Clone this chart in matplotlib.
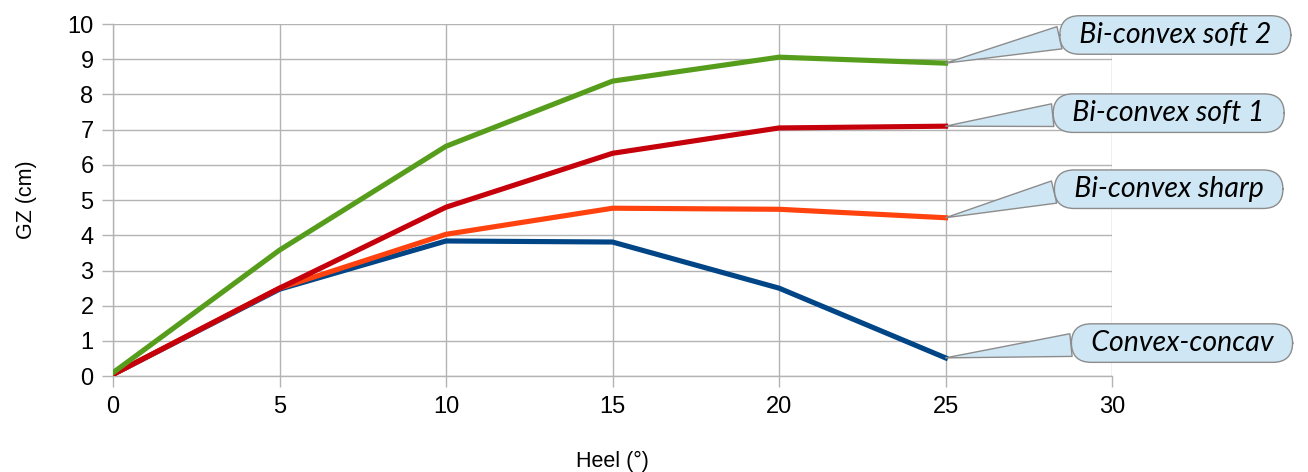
import matplotlib.pyplot as plt

# heel angle (degrees)
heel = [0, 5, 10, 15, 20, 25]

# GZ values (cm)
bi_convex_soft_2 = [0.1, 3.58, 6.53, 8.38, 9.06, 8.89]
bi_convex_soft_1 = [0.05, 2.5, 4.8, 6.33, 7.05, 7.1]
bi_convex_sharp = [0.05, 2.5, 4.03, 4.77, 4.74, 4.5]
convex_concav = [0.05, 2.47, 3.84, 3.81, 2.5, 0.52]

series = [
    ("Bi-convex soft 2", bi_convex_soft_2, "#579d1c", (31.9, 9.69)),
    ("Bi-convex soft 1", bi_convex_soft_1, "#c5000b", (31.7, 7.47)),
    ("Bi-convex sharp", bi_convex_sharp, "#ff420e", (31.7, 5.31)),
    ("Convex-concav", convex_concav, "#004586", (32.1, 0.94)),
]

plt.rcParams['font.family'] = ['Liberation Sans', 'DejaVu Sans']

fig = plt.figure(figsize=(13.08, 4.72), dpi=100)
ax = fig.add_axes([0.0864, 0.203, 0.7638, 0.746])

# convex-concav first so the others sit on top
for nombre, valores, color, pos in series[::-1]:
    ax.plot(heel, valores, color=color, lw=3.7, zorder=3)

for nombre, valores, color, pos in series:
    ax.annotate("  " + nombre + "  ", xy=(heel[-1], valores[-1]), xytext=pos,
                textcoords="data", ha="center", va="center",
                fontsize=20.5, style="italic", family=["Lato", "DejaVu Sans"],
                annotation_clip=False, zorder=5,
                bbox=dict(boxstyle="round,pad=0.22,rounding_size=0.7",
                          fc="#cfe7f5", ec="#8c8c8c", lw=1.0),
                arrowprops=dict(arrowstyle="wedge,tail_width=0.8,shrink_factor=0.5",
                                fc="#cfe7f5", ec="#8c8c8c", lw=1.0,
                                relpos=(0.0, 0.45), shrinkA=0, shrinkB=0))

ax.set_xlim(0, 30)
ax.set_ylim(0, 10)
ax.set_xticks(range(0, 31, 5))
ax.set_yticks(range(0, 11))
ax.grid(True, color="#b3b3b3", lw=1.0)
ax.set_axisbelow(True)

for lado in ["top", "right"]:
    ax.spines[lado].set_visible(False)
for lado in ["left", "bottom"]:
    ax.spines[lado].set_color("#b3b3b3")
    ax.spines[lado].set_linewidth(1.0)

ax.tick_params(axis="both", direction="out", length=8, width=1.0,
               color="#b3b3b3", labelsize=17, pad=6)

ax.set_xlabel("Heel (°)", fontsize=15.5, labelpad=24)
ax.set_ylabel("GZ (cm)", fontsize=15.5, labelpad=22)

fig.savefig("out.png", dpi=100)
